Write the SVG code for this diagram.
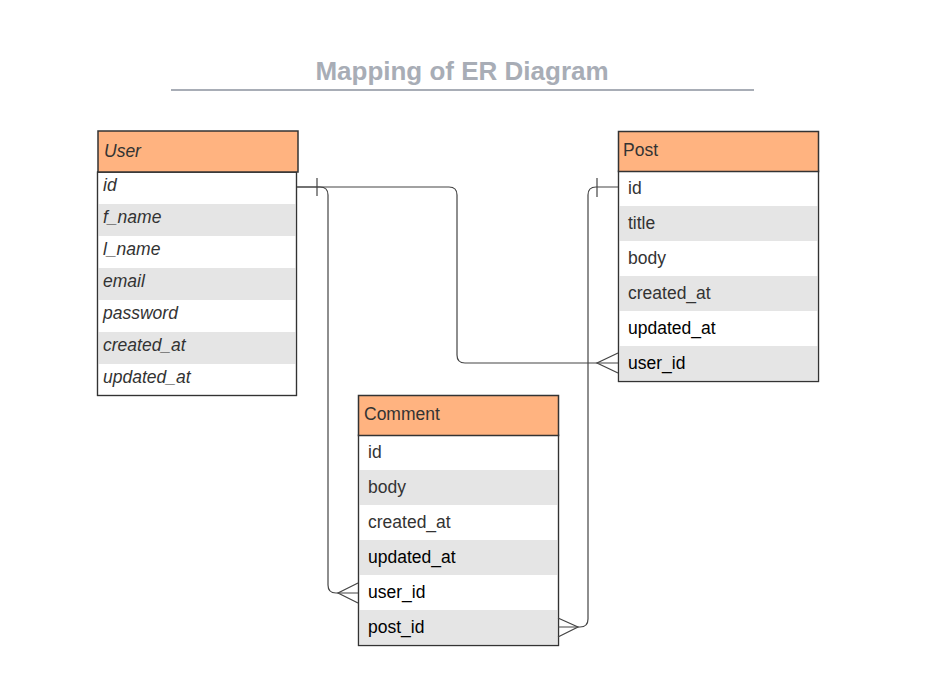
<svg xmlns="http://www.w3.org/2000/svg" width="944" height="696" viewBox="0 0 944 696">
<style>
.hdr{fill:#ffb380;stroke:#333;stroke-width:1.5}
.box{fill:#fff;stroke:#333;stroke-width:1.2}
.alt{fill:#e5e5e5}
.t{font-family:"Liberation Sans",Arial,sans-serif;font-size:17.5px;fill:#333}
.tb{font-family:"Liberation Sans",Arial,sans-serif;font-size:17.5px;fill:#000}
.i{font-style:italic}
.h{font-family:"Liberation Sans",Arial,sans-serif;font-size:17.5px;fill:#333}
.c{fill:none;stroke:#444;stroke-width:1.2}
</style>
<rect width="944" height="696" fill="#fff"/>
<g id="title">
<text x="462" y="80" text-anchor="middle" font-family="Liberation Sans, Arial, sans-serif" font-size="26" font-weight="bold" fill="#a8adb6">Mapping of ER Diagram</text>
<line x1="171" y1="90" x2="754" y2="90" stroke="#a8adb6" stroke-width="2"/>
</g>
<g id="User">
<rect class="box" x="97.5" y="172" width="199" height="223.5"/>
<rect class="alt" x="98" y="204" width="198" height="32"/>
<rect class="alt" x="98" y="268" width="198" height="32"/>
<rect class="alt" x="98" y="332" width="198" height="32"/>
<rect class="box" x="97.5" y="172" width="199" height="223.5" style="fill:none"/>
<rect class="hdr" x="98" y="131" width="200" height="41"/>
<text class="h i" x="104" y="157">User</text>
<text class="t i" x="103" y="191">id</text>
<text class="t i" x="103" y="223">f_name</text>
<text class="t i" x="103" y="255">l_name</text>
<text class="t i" x="103" y="287">email</text>
<text class="t i" x="103" y="319">password</text>
<text class="t i" x="103" y="351">created_at</text>
<text class="t i" x="103" y="383">updated_at</text>
</g>
<g id="Post">
<rect class="box" x="618.5" y="171" width="200" height="210.5"/>
<rect class="alt" x="619" y="206" width="199" height="35"/>
<rect class="alt" x="619" y="276" width="199" height="35"/>
<rect class="alt" x="619" y="346" width="199" height="35"/>
<rect class="box" x="618.5" y="171" width="200" height="210.5" style="fill:none"/>
<rect class="hdr" x="618.5" y="131.5" width="200" height="40"/>
<text class="h" x="623" y="156">Post</text>
<text class="t" x="628" y="194">id</text>
<text class="t" x="628" y="229">title</text>
<text class="t" x="628" y="264">body</text>
<text class="t" x="628" y="299">created_at</text>
<text class="tb" x="628" y="334">updated_at</text>
<text class="tb" x="628" y="369">user_id</text>
</g>
<g id="Comment">
<rect class="box" x="358.5" y="435" width="200" height="210.5"/>
<rect class="alt" x="359" y="470" width="199" height="35"/>
<rect class="alt" x="359" y="540" width="199" height="35"/>
<rect class="alt" x="359" y="610" width="199" height="35"/>
<rect class="box" x="358.5" y="435" width="200" height="210.5" style="fill:none"/>
<rect class="hdr" x="358.5" y="395.5" width="200" height="40"/>
<text class="h" x="364" y="420">Comment</text>
<text class="t" x="368" y="458">id</text>
<text class="t" x="368" y="493">body</text>
<text class="t" x="368" y="528">created_at</text>
<text class="tb" x="368" y="563">updated_at</text>
<text class="tb" x="368" y="598">user_id</text>
<text class="tb" x="368" y="633">post_id</text>
</g>
<g id="connectors">
<path class="c" d="M297 187 H449 Q457 187 457 195 V355 Q457 363 465 363 H618"/>
<path class="c" d="M317 178 V196"/>
<path class="c" d="M618 353 L597 363 L618 373"/>
<path class="c" d="M297 187 H320 Q328 187 328 195 V585 Q328 593 336 593 H358"/>
<path class="c" d="M358 583 L338 593 L358 603"/>
<path class="c" d="M618 187 H596 Q588 187 588 195 V619 Q588 627 580 627 H558"/>
<path class="c" d="M597 178 V197"/>
<path class="c" d="M558 618 L578 627 L558 637"/>
</g>
</svg>
